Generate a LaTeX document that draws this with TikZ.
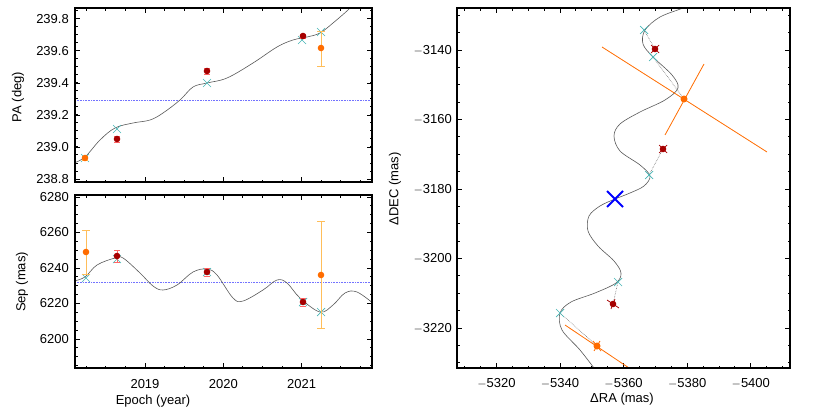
\documentclass[tikz,border=0pt]{standalone}
\usepackage{fontspec}
\setmainfont{Liberation Sans}
\begin{document}
\begin{tikzpicture}[x=1pt,y=-1pt,
  frame/.style={line width=1.3pt},
  tk/.style={line width=1pt},
  lab/.style={font=\fontsize{13}{14}\selectfont, inner sep=0pt},
  crv/.style={draw=black!65, line width=0.6pt},
  ref/.style={draw=blue!55, densely dotted, line width=0.6pt},
  cx/.style={draw={rgb,255:red,70;green,180;blue,180}, line width=0.7pt},
  rd/.style={fill=red!65!black},
  rdbar/.style={draw=red!60, line width=0.7pt},
  og/.style={fill=orange!85!red},
  ogbar/.style={draw={rgb,255:red,255;green,190;blue,90}, line width=0.9pt},
  ogline/.style={draw=orange!85!red, line width=0.8pt},
  lnk/.style={draw=black!55, densely dotted, line width=0.6pt}]
\useasboundingbox (0,0) rectangle (830,415);
\newcommand{\cross}[3][4]{\draw[cx] (#2-#1,#3-#1)--(#2+#1,#3+#1) (#2-#1,#3+#1)--(#2+#1,#3-#1);}
% ---------- top-left panel ----------
\foreach \t in {2018.25,2018.5,...,2021.8}{
  \pgfmathsetmacro\px{145+78.3*(\t-2019)}
  \draw[tk] (\px,182)--(\px,179.5) (\px,8)--(\px,10.5);
  \draw[tk] (\px,368)--(\px,365.5) (\px,195)--(\px,197.5);}
\foreach \t in {2019,2020,2021}{
  \pgfmathsetmacro\px{145+78.3*(\t-2019)}
  \draw[tk] (\px,182)--(\px,177) (\px,8)--(\px,13);
  \draw[tk] (\px,368)--(\px,363) (\px,195)--(\px,200);
  \node[lab] at (\px,384) {\t};}
\foreach \v in {238.8,238.85,...,239.86}{
  \pgfmathsetmacro\py{147-160*(\v-239)}
  \draw[tk] (75,\py)--(77.5,\py) (372,\py)--(369.5,\py);}
\foreach \v/\l in {238.8/238.8,239.0/239.0,239.2/239.2,239.4/239.4,239.6/239.6,239.8/239.8}{
  \pgfmathsetmacro\py{147-160*(\v-239)}
  \draw[tk] (75,\py)--(80,\py) (372,\py)--(367,\py);
  \node[lab,anchor=east] at (69,\py) {\l};}
\node[lab,rotate=90] at (18,97) {PA (deg)};
\draw[ref] (75,100)--(372,100);
\begin{scope}
\clip (75,8) rectangle (372,182);
\draw[crv] plot[smooth,tension=0.6] coordinates {(74,163) (85,157) (100,140) (115,128) (133,123) (150,120) (163,113) (180,100) (193,87) (207,83) (227,78) (253,63) (277,47) (293,40) (307,37) (320,33) (333,23) (348,10) (352,5)};
\end{scope}
\cross{85}{158} \cross{117}{129} \cross{207}{83} \cross{302}{40} \cross{321}{32}
\draw[rdbar] (114,136)--(120,136) (114,142)--(120,142) (204,68)--(210,68) (204,74)--(210,74) (300,34)--(306,34) (300,38)--(306,38);
\fill[rd] (117,139) circle (3.3) (207,71) circle (3.3) (303,36) circle (3.3);
\draw[ogbar] (82,156)--(88,156) (82,160)--(88,160) (321,31)--(321,66) (317,31)--(325,31) (317,66)--(325,66);
\fill[og] (85,158) circle (3.3) (321,48) circle (3.3);
\draw[frame] (75,8) rectangle (372,182);
% ---------- bottom-left panel ----------
\foreach \v in {6185,6190,...,6280}{
  \pgfmathsetmacro\py{303.5-1.775*(\v-6220)}
  \draw[tk] (75,\py)--(77.5,\py) (372,\py)--(369.5,\py);}
\foreach \v in {6200,6220,...,6280}{
  \pgfmathsetmacro\py{303.5-1.775*(\v-6220)}
  \draw[tk] (75,\py)--(80,\py) (372,\py)--(367,\py);
  \node[lab,anchor=east] at (69,\py) {\v};}
\node[lab,rotate=90] at (22,282) {Sep (mas)};
\node[lab] at (153,401) {Epoch (year)};
\draw[ref] (75,282)--(372,282);
\begin{scope}
\clip (75,195) rectangle (372,368);
\draw[crv] plot[smooth,tension=0.6] coordinates {(74,281) (85,277) (97,265) (115,258) (123,258) (140,273) (153,286) (163,290) (177,285) (193,272) (207,269) (217,275) (233,298) (243,301) (263,290) (277,280) (287,283) (300,298) (320,312) (333,305) (345,293) (357,292) (374,304)};
\end{scope}
\cross{86}{278} \cross{117}{259} \cross{207}{272} \cross{303}{302} \cross{321}{312}
\draw[rdbar] (117,250)--(117,262) (114,250)--(120,250) (114,262)--(120,262) (204,268)--(210,268) (204,276)--(210,276) (300,298)--(306,298) (300,306)--(306,306);
\fill[rd] (117,256) circle (3.3) (207,272) circle (3.3) (303,302) circle (3.3);
\draw[ogbar] (86,230)--(86,274) (82,230)--(90,230) (82,274)--(90,274) (321,221)--(321,328) (317,221)--(325,221) (317,328)--(325,328);
\fill[og] (86,252) circle (3.3) (321,275) circle (3.3);
\draw[frame] (75,195) rectangle (372,368);
% ---------- right panel ----------
\foreach \r in {5310,5315,...,5410}{
  \pgfmathsetmacro\px{560+3.18*(\r-5340)}
  \draw[tk] (\px,368)--(\px,365.5) (\px,8)--(\px,10.5);}
\foreach \r in {5320,5340,...,5400}{
  \pgfmathsetmacro\px{560+3.18*(\r-5340)}
  \draw[tk] (\px,368)--(\px,363) (\px,8)--(\px,13);
  \node[lab] at (\px,383) {$-$\r};}
\foreach \d in {-3130,-3135,...,-3230}{
  \pgfmathsetmacro\py{189-3.475*(\d+3180)}
  \draw[tk] (457,\py)--(459.5,\py) (790,\py)--(787.5,\py);}
\foreach \d in {3140,3160,...,3220}{
  \pgfmathsetmacro\py{189-3.475*(-\d+3180)}
  \draw[tk] (457,\py)--(462,\py) (790,\py)--(785,\py);
  \node[lab,anchor=east] at (452,\py) {$-$\d};}
\node[lab,rotate=90] at (395,189) {ΔDEC (mas)};
\node[lab] at (622,399) {ΔRA (mas)};
\begin{scope}
\clip (457,8) rectangle (790,368);
\draw[crv] plot[smooth,tension=0.55] coordinates {(690,4) (683,8) (660,17) (645,30) (643,44) (653,57) (672,75) (678,88) (665,100) (640,112) (620,124) (614,136) (620,151) (640,165) (650,176) (644,186) (630,193) (615,199) (600,206) (589,216) (588,231) (598,246) (614,261) (621,273) (616,283) (595,293) (571,302) (560,313) (562,330) (580,350) (597,372)};
\draw[lnk] (644,30)--(655,49) (653,57)--(684,99) (663,149)--(649,175) (618,282)--(613,304) (560,313)--(597,346);
\draw[ogline] (602,47)--(767,152) (665,135)--(704,64) (565,325)--(632,370);
\end{scope}
\cross{644}{30} \cross{653}{57} \cross{649}{175} \cross{618}{282} \cross{560}{313}
\draw[red!65!black, line width=0.7pt] (651,45)--(659,53) (651,53)--(659,45) (659,145)--(667,153) (659,153)--(667,145) (607,300)--(619,308) (611,309)--(615,299);
\fill[rd] (655,49) circle (3.3) (663,149) circle (3.3) (613,304) circle (3.3);
\fill[og] (684,99) circle (3.5) (597,346) circle (3.5);
\draw[ogline] (593,341)--(601,351) (594,351)--(600,341);
\draw[blue, line width=1.8pt] (607,191)--(623,207) (607,207)--(623,191);
\draw[frame] (457,8) rectangle (790,368);
\end{tikzpicture}
\end{document}
